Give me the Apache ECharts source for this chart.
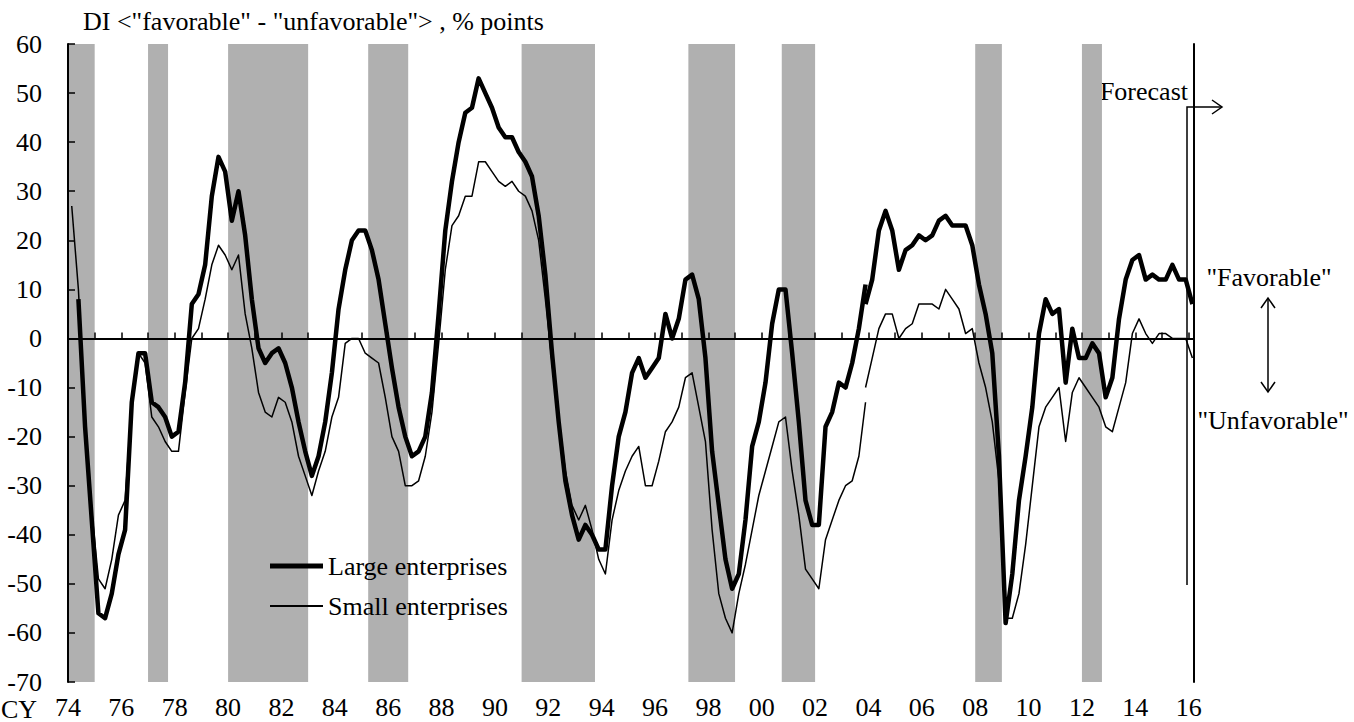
<!DOCTYPE html>
<html>
<head>
<meta charset="utf-8">
<title>Business conditions DI</title>
<script src="https://cdn.jsdelivr.net/npm/echarts@6/dist/echarts.min.js"></script>
<style>
  html, body { margin: 0; padding: 0; background: #fff; }
  #chart { width: 1354px; height: 722px; }
</style>
</head>
<body>
<div id="chart"></div>
<script>
// quarterly surveys, index 0 = 1974 Q1
const startYear = 1974
const breakIndex = 119 // 2003 Q4: series revised, old and new values both shown

// large enterprises, old basis (1974 Q1 .. 2003 Q4)
const largeOld = [
  null, 8, -18, -37, -56, -57, -52, -44, -39, -13, -3, -3,
  -13, -14, -16, -20, -19, -9, 7, 9, 15, 29, 37, 34,
  24, 30, 21, 8, -2, -5, -3, -2, -5, -10, -17, -23,
  -28, -24, -17, -7, 6, 14, 20, 22, 22, 18, 12, 3,
  -6, -14, -20, -24, -23, -20, -11, 5, 22, 32, 40, 46,
  47, 53, 50, 47, 43, 41, 41, 38, 36, 33, 25, 13,
  -3, -17, -29, -36, -41, -38, -40, -43, -43, -30, -20, -15,
  -7, -4, -8, -6, -4, 5, 0, 4, 12, 13, 8, -4,
  -23, -34, -45, -51, -48, -37, -22, -17, -9, 3, 10, 10,
  -3, -17, -33, -38, -38, -18, -15, -9, -10, -5, 2, 11
]
// large enterprises, new basis (2003 Q4 .. 2016 Q1)
const largeNew = [
  7, 12, 22, 26, 22, 14, 18, 19, 21, 20, 21, 24, 25,
  23, 23, 23, 19, 11, 5, -3, -24, -58, -48, -33, -24,
  -14, 1, 8, 5, 6, -9, 2, -4, -4, -1, -3, -12,
  -8, 4, 12, 16, 17, 12, 13, 12, 12, 15, 12, 12, 7
]
// small enterprises, old basis
const smallOld = [
  27, 10, -17, -35, -49, -51, -45, -36, -33, -13, -3, -5,
  -16, -18, -21, -23, -23, -11, 0, 2, 8, 15, 19, 17,
  14, 17, 5, -2, -11, -15, -16, -12, -13, -17, -24, -28,
  -32, -27, -23, -16, -12, -1, 0, 0, -3, -4, -5, -12,
  -20, -23, -30, -30, -29, -24, -15, -1, 14, 23, 25, 29,
  29, 36, 36, 34, 32, 31, 32, 30, 29, 26, 20, 8,
  -5, -16, -27, -34, -37, -34, -39, -45, -48, -37, -31, -27,
  -24, -22, -30, -30, -25, -19, -17, -14, -8, -7, -14, -21,
  -39, -52, -57, -60, -52, -46, -39, -32, -27, -22, -17, -16,
  -27, -36, -47, -49, -51, -41, -37, -33, -30, -29, -24, -13
]
// small enterprises, new basis
const smallNew = [
  -10, -4, 2, 5, 5, 0, 2, 3, 7, 7, 7, 6, 10,
  8, 6, 1, 2, -5, -10, -17, -29, -57, -57, -52, -42,
  -30, -18, -14, -12, -10, -21, -11, -8, -10, -12, -14, -18,
  -19, -14, -9, 1, 4, 1, -1, 1, 1, 0, 0, 0, -4
]

// shaded periods (recessions), in calendar years
const recessions = [
  [1974, 1975], [1977, 1977.75], [1980, 1983], [1985.25, 1986.75],
  [1991, 1993.75], [1997.25, 1999], [2000.75, 2002], [2008, 2009], [2012, 2012.75]
]

const axisMin = 1974
const axisMax = 2016.2
const yTicks = { min: -70, max: 60, step: 10 }

const FONT = 'Liberation Serif, Times New Roman, serif'

function quarterX(i) {
  return startYear + i / 4 + 0.14
}

function toPairs(values, firstIndex) {
  return values.map((v, i) => [quarterX(firstIndex + i), v])
}

const chart = echarts.init(document.getElementById('chart'), null, { renderer: 'svg' })

const thick = { color: '#000', width: 4.5, join: 'round' }
const thin = { color: '#000', width: 1.5, join: 'round' }
const legendText = { fontFamily: FONT, fontSize: 26, color: '#000' }

chart.setOption({
  animation: false,
  backgroundColor: '#fff',
  title: {
    text: 'DI <"favorable" - "unfavorable"> , % points',
    left: 78,
    top: 3,
    textStyle: { fontFamily: FONT, fontSize: 26, fontWeight: 'normal', color: '#000' },
  },
  grid: { left: 68, right: 160, top: 44, bottom: 40 },
  legend: [
    {
      data: ['Large enterprises'],
      left: 270, top: 553, padding: 0,
      icon: 'rect', itemWidth: 53, itemHeight: 5,
      selectedMode: false,
      itemStyle: { color: '#000', borderWidth: 0 },
      textStyle: legendText,
    },
    {
      data: ['Small enterprises'],
      left: 270, top: 593, padding: 0,
      icon: 'rect', itemWidth: 53, itemHeight: 2,
      selectedMode: false,
      itemStyle: { color: '#000', borderWidth: 0 },
      textStyle: legendText,
    },
  ],
  xAxis: [
    {
      type: 'value',
      min: axisMin,
      max: axisMax,
      interval: 1,
      z: 5,
      splitLine: { show: false },
      axisLine: { lineStyle: { color: '#000', width: 2 } },
      axisTick: { inside: true, length: 6, lineStyle: { color: '#000', width: 1.5 } },
      axisLabel: {
        margin: 12,
        fontFamily: FONT, fontSize: 26, color: '#000',
        formatter: v => (Number.isInteger(v) && v % 2 === 0) ? String(v % 100).padStart(2, '0') : '',
      },
    },
    {
      type: 'value', position: 'top', min: axisMin, max: axisMax, z: 5,
      splitLine: { show: false }, axisTick: { show: false }, axisLabel: { show: false },
      axisLine: { lineStyle: { color: '#000', width: 2 } },
    },
  ],
  yAxis: [
    {
      type: 'value',
      min: yTicks.min,
      max: yTicks.max,
      interval: yTicks.step,
      z: 5,
      splitLine: { show: false },
      axisLine: { lineStyle: { color: '#000', width: 2 } },
      axisTick: { inside: true, length: 7, lineStyle: { color: '#000', width: 1.5 } },
      axisLabel: { margin: 26, fontFamily: FONT, fontSize: 26, color: '#000' },
    },
    {
      type: 'value', position: 'right', min: yTicks.min, max: yTicks.max, z: 5,
      splitLine: { show: false }, axisTick: { show: false }, axisLabel: { show: false },
      axisLine: { lineStyle: { color: '#000', width: 2 } },
    },
  ],
  series: [
    {
      name: 'bands',
      type: 'line',
      data: [],
      z: 1,
      silent: true,
      markArea: {
        silent: true,
        itemStyle: { color: '#b0b0b0' },
        data: recessions.map(([a, b]) => [{ xAxis: a }, { xAxis: b }]),
      },
      markLine: {
        silent: true,
        symbol: ['none', 'none'],
        label: { show: false },
        lineStyle: { color: '#000', width: 2, type: 'solid' },
        data: [{ yAxis: 0 }],
      },
    },
    {
      name: 'Large enterprises', type: 'line', z: 3, symbol: 'none', color: '#000',
      lineStyle: thick, data: toPairs(largeOld, 0),
    },
    {
      name: 'Large enterprises', type: 'line', z: 3, symbol: 'none', color: '#000',
      lineStyle: thick, data: toPairs(largeNew, breakIndex),
    },
    {
      name: 'Small enterprises', type: 'line', z: 3, symbol: 'none', color: '#000',
      lineStyle: thin, data: toPairs(smallOld, 0),
    },
    {
      name: 'Small enterprises', type: 'line', z: 3, symbol: 'none', color: '#000',
      lineStyle: thin, data: toPairs(smallNew, breakIndex),
    },
  ],
  graphic: [
    { type: 'text', x: 1, y: 709, style: { text: 'CY', font: '26px ' + FONT, fill: '#000', textVerticalAlign: 'middle' } },
    { type: 'text', x: 1188, y: 91, style: { text: 'Forecast', font: '26px ' + FONT, fill: '#000', textAlign: 'right', textVerticalAlign: 'middle' } },
    { type: 'polyline', shape: { points: [[1187, 585], [1187, 107], [1222, 107]] }, style: { stroke: '#000', lineWidth: 1.5, fill: null } },
    { type: 'polyline', shape: { points: [[1212, 100], [1222, 107], [1212, 114]] }, style: { stroke: '#000', lineWidth: 1.5, fill: null } },
    { type: 'text', x: 1269, y: 277, style: { text: '"Favorable"', font: '26px ' + FONT, fill: '#000', textAlign: 'center', textVerticalAlign: 'middle' } },
    { type: 'text', x: 1273, y: 420, style: { text: '"Unfavorable"', font: '26px ' + FONT, fill: '#000', textAlign: 'center', textVerticalAlign: 'middle' } },
    { type: 'line', shape: { x1: 1268, y1: 298, x2: 1268, y2: 392 }, style: { stroke: '#000', lineWidth: 1.5 } },
    { type: 'polyline', shape: { points: [[1261, 308], [1268, 298], [1275, 308]] }, style: { stroke: '#000', lineWidth: 1.5, fill: null } },
    { type: 'polyline', shape: { points: [[1261, 382], [1268, 392], [1275, 382]] }, style: { stroke: '#000', lineWidth: 1.5, fill: null } },
  ],
})
</script>
</body>
</html>
